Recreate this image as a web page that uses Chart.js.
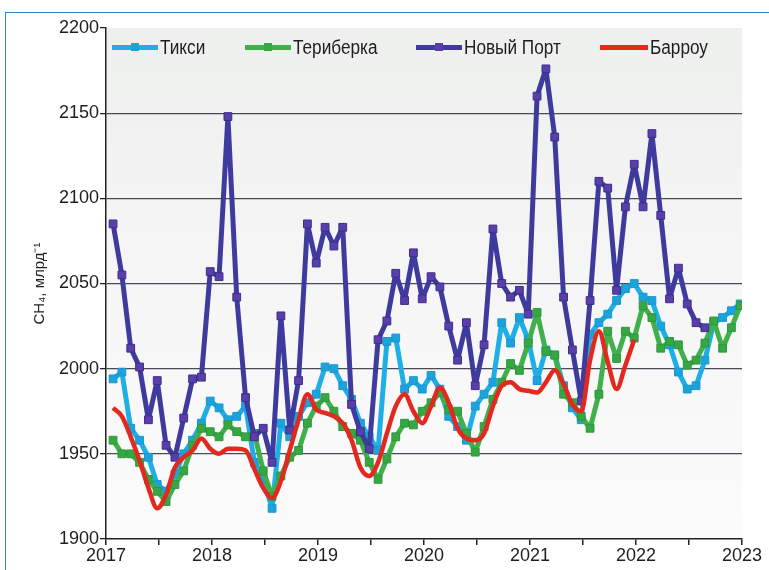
<!DOCTYPE html>
<html>
<head>
<meta charset="utf-8">
<script src="https://cdn.jsdelivr.net/npm/chart.js@4.4.1/dist/chart.umd.min.js"></script>
<style>
  body { margin: 0; background: #fff; }
  #wrap { position: relative; width: 769px; height: 570px; overflow: hidden; }
  #frame { position: absolute; left: 5px; top: 12px; width: 800px; height: 600px; border: 1.5px solid #3b7fc4; }
  #legend { position: absolute; left: 0; top: 0; width: 769px; height: 70px;
            font-family: 'Liberation Sans', Arial, sans-serif; font-size: 20px; color: #1e1e1e; }
  .item { position: absolute; top: 35px; height: 24px; display: flex; align-items: center; }
  .sample { position: relative; height: 5px; margin-right: 2px; flex: none; }
  .mark { position: absolute; width: 8px; height: 8px; top: -1.5px; }
  .label { display: inline-block; transform: scaleX(0.86); transform-origin: left center; white-space: nowrap; }
</style>
</head>
<body>
<div id="wrap">
  <div id="frame"></div>
  <canvas id="myChart" width="769" height="570"></canvas>
  <div id="legend"></div>
</div>
<script>
// monthly values, Jan 2017 onwards
let yearTicks = [2017, 2018, 2019, 2020, 2021, 2022, 2023];

let tiksi = [
    1994, 1998, 1965, 1958, 1948, 1932, 1928, 1938, 1950, 1958, 1968, 1981,
    1977, 1970, 1972, 1978, 1945, 1935, 1918, 1968, 1960, 1972, 1980, 1985,
    2001, 2000, 1990, 1982, 1968, 1960, 1952, 2016, 2018, 1988, 1993, 1988,
    1996, 1988, 1972, 1966, 1958, 1978, 1985, 1992, 2027, 2015, 2030, 2017,
    1993, 2011, 2008, 1990, 1977, 1970, 2020, 2027, 2032, 2040, 2047, 2050,
    2042, 2040, 2025, 2014, 1998, 1988, 1990, 2005, 2027, 2030, 2034, 2038
];

let teriberka = [
    1958, 1950, 1950, 1945, 1935, 1928, 1922, 1932, 1940, 1955, 1965, 1963,
    1960, 1967, 1963, 1960, 1962, 1940, 1925, 1937, 1948, 1952, 1968, 1978,
    1983, 1975, 1966, 1962, 1958, 1945, 1935, 1947, 1960, 1968, 1967, 1975,
    1980, 1986, 1976, 1975, 1962, 1951, 1966, 1982, 1992, 2003, 1999, 2015,
    2033, 2010, 2008, 1985, 1980, 1972, 1965, 1985, 2022, 2006, 2022, 2018,
    2037, 2030, 2012, 2016, 2014, 2002, 2005, 2015, 2028, 2012, 2024, 2037
];

let novyPort = [
    2085, 2055, 2012, 2001, 1970, 1993, 1955, 1948, 1971, 1994, 1995, 2057,
    2054, 2148, 2042, 1983, 1960, 1965, 1945, 2031, 1964, 1993, 2085, 2062,
    2083, 2072, 2083, 1979, 1963, 1953, 2017, 2028, 2056, 2040, 2068, 2041,
    2054, 2048, 2025, 2005, 2027, 1990, 2014, 2082, 2050, 2042, 2046, 2032,
    2160, 2176, 2136, 2042, 2011, 1981, 2040, 2110, 2106, 2046, 2095, 2120,
    2095, 2138, 2090, 2041, 2059, 2038, 2027, 2024
];

let barrow = [
    1977, 1972, 1960, 1946, 1930, 1918, 1926, 1942, 1948, 1952, 1959, 1953,
    1950, 1953, 1953, 1952, 1941, 1930, 1924, 1934, 1952, 1970, 1985, 1976,
    1974, 1972, 1968, 1958, 1942, 1937, 1945, 1962, 1978, 1985, 1975, 1968,
    1978, 1989, 1980, 1965, 1959, 1958, 1962, 1978, 1990, 1992, 1988, 1987,
    1986, 1992, 1999, 1991, 1979, 1975, 2005, 2022, 2004, 1988, 2002, 2017
];

let names = ['Тикси', 'Териберка', 'Новый Порт', 'Барроу'];

// month index -> position on the year axis
function toPoints(values) {
    return values.map((v, i) => ({ x: yearTicks[0] + (i + 0.8) / 12, y: v }));
}

const tickFont = "'Liberation Sans', Arial, sans-serif";

const bgPlugin = {
    id: 'bg',
    beforeDraw(chart) {
        const { ctx, chartArea: a } = chart;
        let g = ctx.createLinearGradient(0, a.top, 0, a.bottom);
        g.addColorStop(0, '#eef0ee');
        g.addColorStop(1, '#fbfbfb');
        ctx.save();
        ctx.fillStyle = g;
        ctx.fillRect(a.left, a.top, a.right - a.left, a.bottom - a.top);
        ctx.restore();
    }
};

function lineSet(label, values, line, fill, edge, order) {
    return {
        label: label,
        data: toPoints(values),
        borderColor: line,
        backgroundColor: fill,
        pointBorderColor: edge,
        borderWidth: 5,
        borderJoinStyle: 'round',
        pointStyle: 'rect',
        pointRadius: 5.5,
        pointBorderWidth: 1,
        tension: 0,
        order: order
    };
}

let chart = new Chart(document.getElementById('myChart'), {
    type: 'line',
    data: {
        datasets: [
            lineSet(names[0], tiksi, '#20aee6', '#1ca3dc', '#1898d0', 3),
            lineSet(names[1], teriberka, '#3fb04c', '#35a843', '#2e963b', 2),
            lineSet(names[2], novyPort, '#3f3b9e', '#5a3fab', '#3a2f8c', 1),
            {
                label: names[3],
                data: toPoints(barrow),
                borderColor: '#e3281f',
                borderWidth: 4.5,
                borderJoinStyle: 'round',
                pointRadius: 0,
                cubicInterpolationMode: 'monotone',
                order: 0
            }
        ]
    },
    options: {
        responsive: false,
        animation: false,
        layout: { autoPadding: false, padding: { top: 28, right: 27, left: 0, bottom: 0 } },
        plugins: { legend: { display: false }, tooltip: { enabled: false } },
        scales: {
            x: {
                type: 'linear',
                min: 2017,
                max: 2023,
                afterFit: (s) => { s.height = 31; },
                border: { color: '#222', width: 1.5 },
                grid: { drawOnChartArea: false, tickLength: 6, tickColor: '#222', lineWidth: 1.5 },
                ticks: {
                    stepSize: 0.5,
                    autoSkip: false,
                    maxRotation: 0,
                    padding: 0,
                    color: '#1e1e1e',
                    font: { family: tickFont, size: 18 },
                    callback: (v) => (v % 1 === 0 ? String(v) : '')
                }
            },
            y: {
                min: 1900,
                max: 2200,
                afterFit: (s) => { s.width = 106; },
                border: { color: '#222', width: 1.5 },
                grid: {
                    color: (c) => (c.tick && (c.tick.value === 2200 || c.tick.value === 1900) ? 'rgba(0,0,0,0)' : '#4a4a55'),
                    lineWidth: 1.3,
                    tickLength: 6,
                    tickColor: '#222'
                },
                ticks: {
                    stepSize: 50,
                    padding: 1,
                    color: '#1e1e1e',
                    font: { family: tickFont, size: 18 },
                    callback: (v) => String(v)
                },
                title: {
                    display: true,
                    text: 'CH₄, млрд⁻¹',
                    color: '#222',
                    font: { family: tickFont, size: 15 },
                    padding: { top: 31, bottom: 0 }
                }
            }
        }
    },
    plugins: [bgPlugin]
});

// legend drawn as html on top of the plot
let legendPos = [112, 245, 416, 600];
let legendColors = [['#20aee6', '#1ca3dc'], ['#3fb04c', '#35a843'], ['#3f3b9e', '#5a3fab'], ['#e3281f', null]];
const legend = document.getElementById('legend');
names.forEach((n, i) => {
    let item = document.createElement('div');
    item.className = 'item';
    item.style.left = legendPos[i] + 'px';
    let sample = document.createElement('div');
    sample.className = 'sample';
    sample.style.width = (i === 3 ? 48 : 46) + 'px';
    sample.style.background = legendColors[i][0];
    if (legendColors[i][1]) {
        let mark = document.createElement('div');
        mark.className = 'mark';
        mark.style.left = '19px';
        mark.style.background = legendColors[i][1];
        sample.appendChild(mark);
    }
    item.appendChild(sample);
    let label = document.createElement('span');
    label.className = 'label';
    label.innerText = n;
    item.appendChild(label);
    legend.appendChild(item);
});
</script>
</body>
</html>
